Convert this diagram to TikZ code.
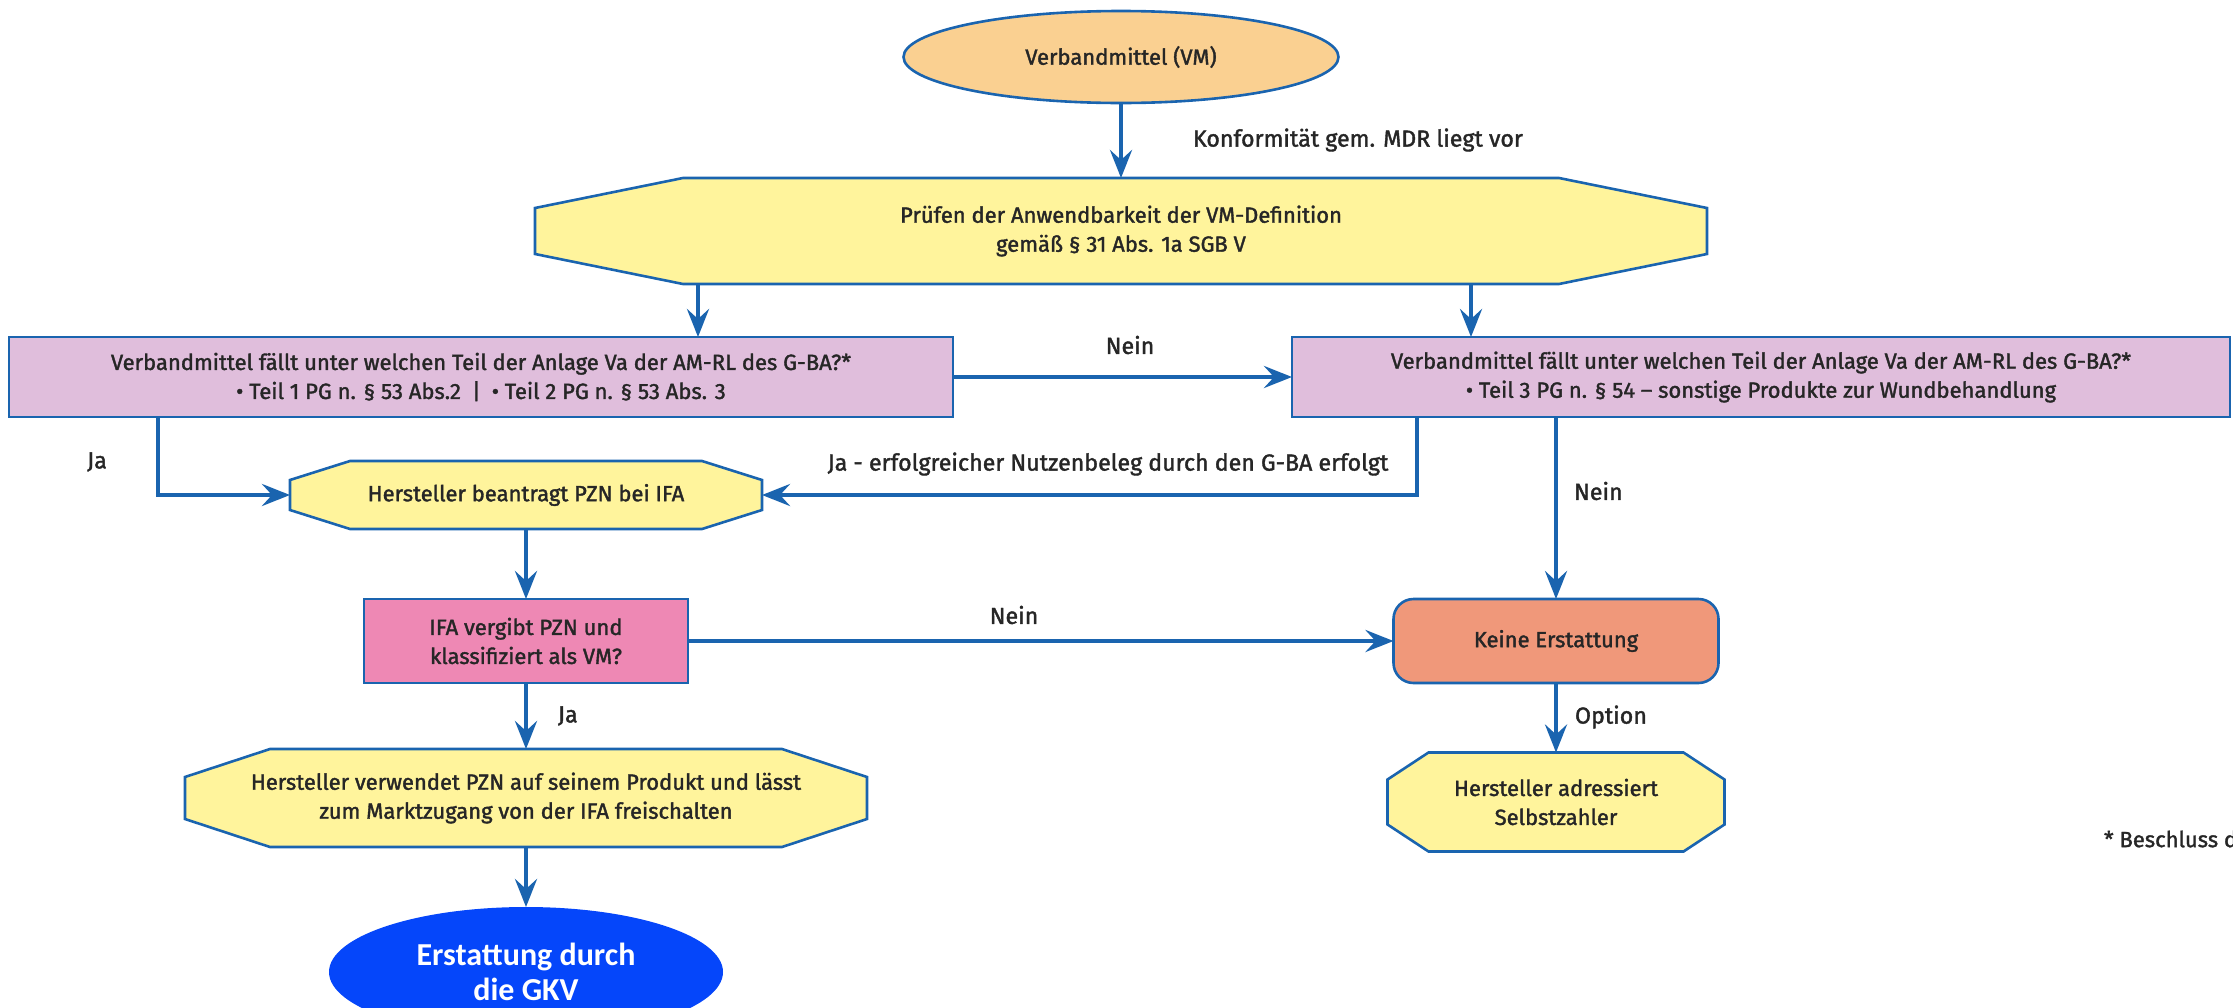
\documentclass[tikz,border=0pt]{standalone}
\usepackage{fontspec}
\setmainfont{Fira Sans}[FakeBold=1.6]
\newfontfamily\gkvfont{Carlito}
\usetikzlibrary{arrows.meta,shapes.geometric,backgrounds}

\definecolor{lineblue}{RGB}{26,100,175}
\definecolor{vmorange}{RGB}{250,208,145}
\definecolor{octyellow}{RGB}{255,244,156}
\definecolor{teilviolet}{RGB}{224,190,220}
\definecolor{ifapink}{RGB}{238,136,180}
\definecolor{keinesalmon}{RGB}{240,152,122}
\definecolor{gkvblue}{RGB}{5,70,250}

\newcommand{\fs}{\fontsize{11}{14.5}\selectfont}
\newcommand{\fl}{\fontsize{11.6}{14.5}\selectfont}
% octagon around a plain node: #1 name, #2 chamfer x, #3 chamfer y
\newcommand{\octagon}[3]{%
  \filldraw[box, fill=octyellow] ([xshift=#2]#1.north west) -- ([xshift=-#2]#1.north east)
    -- ([yshift=-#3]#1.north east) -- ([yshift=#3]#1.south east)
    -- ([xshift=-#2]#1.south east) -- ([xshift=#2]#1.south west)
    -- ([yshift=#3]#1.south west) -- ([yshift=-#3]#1.north west) -- cycle;}

\begin{document}
\begin{tikzpicture}[x=0.5pt, y=-0.5pt]
        \tikzstyle{every node} = [font=\fs, text=black!85, inner sep=0pt, outer sep=0pt, align=center]
        \tikzstyle{box} = [draw=lineblue, line width=1.3pt]
        \tikzstyle{lbl} = [font=\fl]
        \tikzstyle{arr} = [draw=lineblue, line width=2.2pt, -{Stealth[length=14pt, width=11pt, inset=5pt]}]
        \useasboundingbox (0,0) rectangle (2233,1007);

        \node[ellipse, box, fill=vmorange, minimum width=217.5pt, minimum height=46pt] (vm) at (1121,57) {Verbandmittel (VM)};
        \node[minimum width=586pt, minimum height=53pt] (pruef) at (1121,231) {Prüfen der Anwendbarkeit der VM-Definition\\gemäß § 31 Abs. 1a SGB V};
        \node[box, fill=teilviolet, minimum width=472pt, minimum height=40pt] (teil12) at (481,377) {Verbandmittel fällt unter welchen Teil der Anlage Va der AM-RL des G-BA?*\\• Teil 1 PG n. § 53 Abs.2\enspace|\enspace• Teil 2 PG n. § 53 Abs. 3};
        \node[box, fill=teilviolet, minimum width=469pt, minimum height=40pt] (teil3) at (1761,377) {Verbandmittel fällt unter welchen Teil der Anlage Va der AM-RL des G-BA?*\\• Teil 3 PG n. § 54 – sonstige Produkte zur Wundbehandlung};
        \node[minimum width=236pt, minimum height=34pt] (pzn) at (526,495) {Hersteller beantragt PZN bei IFA};
        \node[box, fill=ifapink, minimum width=162pt, minimum height=42pt] (ifa) at (526,641) {IFA vergibt PZN und\\klassifiziert als VM?};
        \node[box, fill=keinesalmon, rounded corners=10pt, minimum width=162.5pt, minimum height=42pt] (keine) at (1556,641) {Keine Erstattung};
        \node[minimum width=168.5pt, minimum height=49.5pt] (selbst) at (1556,802) {Hersteller adressiert\\Selbstzahler};
        \node[minimum width=341pt, minimum height=49pt] (verw) at (526,798) {Hersteller verwendet PZN auf seinem Produkt und lässt\\zum Marktzugang von der IFA freischalten};
        \node[ellipse, fill=gkvblue, text=white, minimum width=197pt, minimum height=65pt,
              font=\gkvfont\bfseries\fontsize{16}{17.5}\selectfont] (gkv) at (526,972) {Erstattung durch\\die GKV};

        % labels
        \node[lbl, anchor=west] (lkonf) at (1193,140) {Konformität gem. MDR liegt vor};
        \node[lbl] (lnein1) at (1130,345) {Nein};
        \node[lbl] (lja1) at (97,462) {Ja};
        \node[lbl] (lerfolg) at (1108,464) {Ja - erfolgreicher Nutzenbeleg durch den G-BA erfolgt};
        \node[lbl, anchor=west] (lnein2) at (1574,491) {Nein};
        \node[lbl] (lnein3) at (1014,615) {Nein};
        \node[lbl, anchor=west] (lja2) at (558,716) {Ja};
        \node[lbl, anchor=west] (loption) at (1575,717) {Option};
        \node[anchor=west] (lfoot) at (2104,839) {* Beschluss d};

        \begin{scope}[on background layer]
            \octagon{pruef}{74pt}{15pt}
            \octagon{pzn}{30pt}{9.5pt}
            \octagon{selbst}{20.5pt}{13.5pt}
            \octagon{verw}{42.5pt}{14pt}
        \end{scope}

        \coordinate (xl) at (698,0);
        \coordinate (xr) at (1471,0);
        \coordinate (xja) at (158,0);
        \coordinate (xerf) at (1417,0);

        \foreach \from/\to in {vm/pruef, teil12/teil3, pzn/ifa, ifa/keine, ifa/verw, verw/gkv, keine/selbst}
            \draw[arr] (\from) -- (\to);
        \draw[arr] (xl |- pruef.south) -- (xl |- teil12.north);
        \draw[arr] (xr |- pruef.south) -- (xr |- teil3.north);
        \draw[arr] (xja |- teil12.south) |- (pzn.west);
        \draw[arr] (xerf |- teil3.south) |- (pzn.east);
        \draw[arr] (keine.north |- teil3.south) -- (keine.north);
    \end{tikzpicture}
\end{document}
